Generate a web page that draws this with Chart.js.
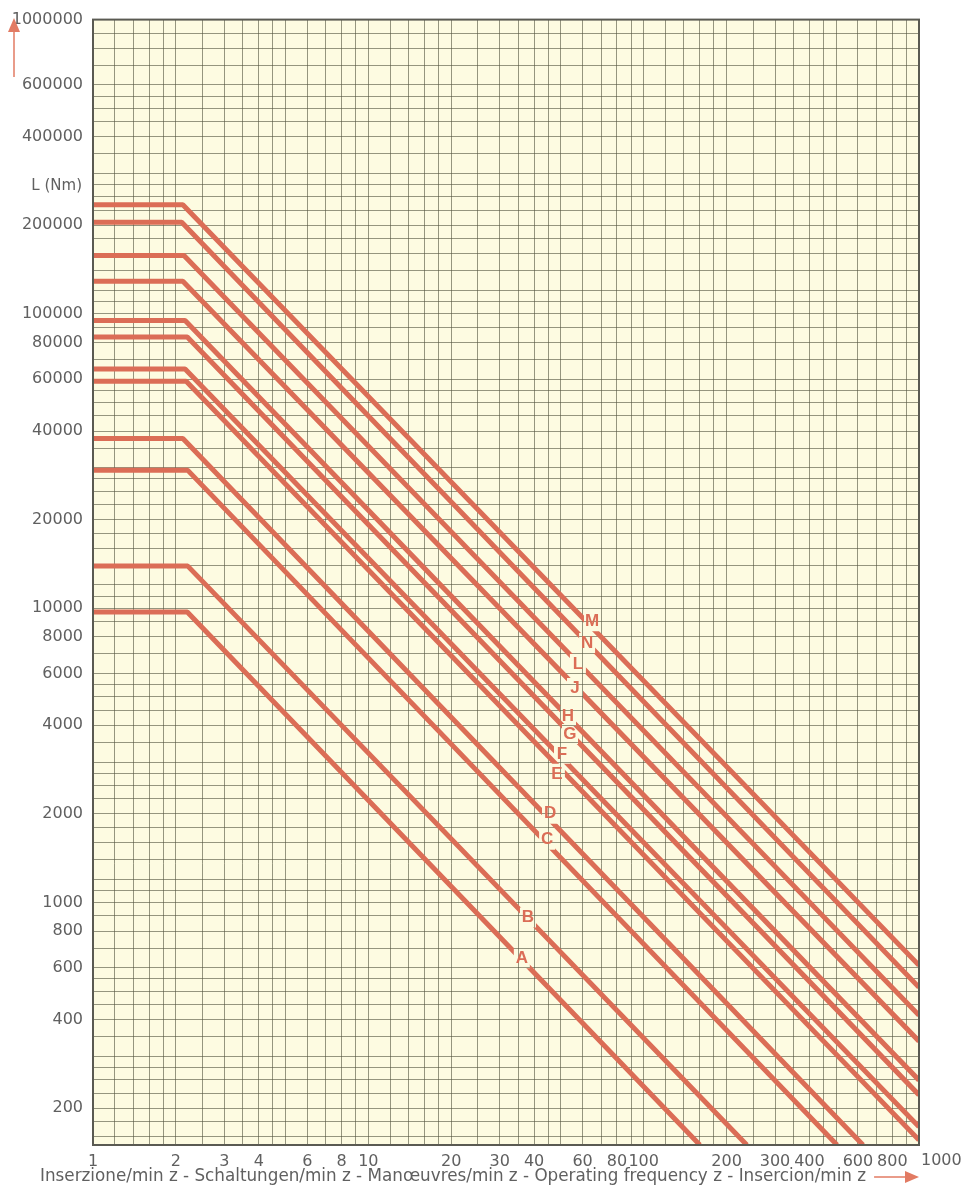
<!DOCTYPE html>
<html>
<head>
<meta charset="utf-8">
<script src="https://cdn.jsdelivr.net/npm/chart.js@4"></script>
<style>
  html, body { margin: 0; padding: 0; background: #fff; }
</style>
</head>
<body>
<canvas id="chart" width="973" height="1189"></canvas>
<script>
// curves, bottom (A) to top (M)
var curveNames = ['A', 'B', 'C', 'D', 'E', 'F', 'G', 'H', 'J', 'L', 'N', 'M'];
// L (Nm) on the flat part, from z = 1 to the knee
var flatL = [9700, 13900, 29400, 37700, 59000, 65000, 83500, 95000, 129000, 158000, 205000, 235000];
// z where the flat part turns down
var kneeZ = [2.2, 2.21, 2.21, 2.12, 2.18, 2.16, 2.2, 2.16, 2.12, 2.14, 2.1, 2.12];
// where the sloped part leaves the grid
var endZ = [160, 237, 504, 626, 1000, 1000, 1000, 1000, 1000, 1000, 1000, 1000];
var endL = [150, 150, 150, 150, 156, 173, 222, 249, 338, 414, 515, 612];
// letter tags sitting in the lines
var tagZ = [36.1, 38.0, 44.6, 45.7, 48.4, 50.5, 54.0, 53.1, 56.3, 57.7, 62.3, 64.9];
var tagL = [646, 890, 1635, 2003, 2737, 3200, 3740, 4304, 5355, 6460, 7610, 9030];

// axis labels as printed
var xLabels = [1, 2, 3, 4, 6, 8, 10, 20, 30, 40, 60, 80, 100, 200, 300, 400, 600, 800, 1000];
var yLabels = [200, 400, 600, 800, 1000, 2000, 4000, 6000, 8000, 10000, 20000, 40000,
               60000, 80000, 100000, 200000, 400000, 600000, 1000000];
// grid rulings inside one decade of the paper
var xRulings = [1, 1.2, 1.4, 1.6, 1.8, 2, 2.5, 3, 3.5, 4, 4.5, 5, 6, 7, 8, 9];
var yRulings = [1, 1.1, 1.2, 1.4, 1.6, 1.8, 2, 2.25, 2.5, 2.75, 3, 3.5, 4, 4.5, 5, 5.5, 6, 7, 8, 9];

var X_MIN = 1, X_MAX = 1000, Y_MIN = 150, Y_MAX = 1000000;

var LINE = '#db6d56';
var TEXT = '#606060';
var PAPER = '#fdfbe1';
var GRID = 'rgba(85, 85, 65, 0.62)';
var TICK_FONT = { family: 'DejaVu Sans', size: 16 };

function gridValues(rulings, lo, hi) {
  var out = [];
  for (var d = 1; d <= 1000000; d *= 10) {
    rulings.forEach(function(r) {
      var v = Math.round(r * d * 1000) / 1000;
      if (v >= lo && v <= hi) out.push(v);
    });
  }
  if (out[out.length - 1] !== hi) out.push(hi);
  if (out[0] !== lo) out.unshift(lo);
  return out;
}

var datasets = curveNames.map(function(name, i) {
  return {
    label: name,
    data: [
      {x: 1, y: flatL[i]},
      {x: kneeZ[i], y: flatL[i]},
      {x: endZ[i], y: endL[i]}
    ],
    showLine: true,
    borderColor: LINE,
    borderWidth: 5,
    borderJoinStyle: 'bevel',
    pointRadius: 0,
    tension: 0
  };
});

// gap in each line where its letter sits
var gapPlugin = {
  id: 'gaps',
  beforeDatasetDraw: function(chart, args) {
    var ctx = chart.ctx;
    var px = chart.scales.x.getPixelForValue(tagZ[args.index]);
    var py = chart.scales.y.getPixelForValue(tagL[args.index]);
    ctx.save();
    ctx.beginPath();
    ctx.rect(0, 0, chart.width, chart.height);
    ctx.rect(px - 8, py - 10, 16, 20);
    ctx.clip('evenodd');
  },
  afterDatasetDraw: function(chart) {
    chart.ctx.restore();
  }
};

var paperPlugin = {
  id: 'paper',
  beforeDraw: function(chart) {
    var ctx = chart.ctx, a = chart.chartArea;
    ctx.save();
    ctx.fillStyle = '#ffffff';
    ctx.fillRect(0, 0, chart.width, chart.height);
    ctx.fillStyle = PAPER;
    ctx.fillRect(a.left, a.top, a.right - a.left, a.bottom - a.top);
    ctx.restore();
  },
  afterDatasetsDraw: function(chart) {
    var ctx = chart.ctx;
    ctx.save();
    ctx.fillStyle = LINE;
    ctx.font = 'bold 17px "Liberation Sans", Arial, sans-serif';
    ctx.textAlign = 'center';
    ctx.textBaseline = 'middle';
    curveNames.forEach(function(name, i) {
      ctx.fillText(name, chart.scales.x.getPixelForValue(tagZ[i]), chart.scales.y.getPixelForValue(tagL[i]));
    });
    ctx.restore();
  },
  afterDraw: function(chart) {
    var ctx = chart.ctx, a = chart.chartArea;
    ctx.save();
    // frame
    ctx.strokeStyle = '#5a5a52';
    ctx.lineWidth = 2;
    ctx.strokeRect(a.left, a.top, a.right - a.left, a.bottom - a.top);

    // last x label sits past the frame, as printed
    ctx.fillStyle = TEXT;
    ctx.font = TICK_FONT.size + 'px "' + TICK_FONT.family + '", sans-serif';
    ctx.textAlign = 'left';
    ctx.textBaseline = 'middle';
    ctx.fillText(String(X_MAX), chart.scales.x.getPixelForValue(X_MAX) + 2, a.bottom + 16);

    // y title
    ctx.font = '15px "DejaVu Sans", sans-serif';
    ctx.textAlign = 'right';
    ctx.fillText('L (Nm)', a.left - 11, a.top + 167);

    // x title
    ctx.textAlign = 'left';
    ctx.font = '16.8px "DejaVu Sans", sans-serif';
    var xt = 'Inserzione/min z - Schaltungen/min z - Manœuvres/min z - Operating frequency z - Insercion/min z';
    ctx.fillText(xt, 40, a.bottom + 32);
    var tEnd = 40 + ctx.measureText(xt).width;

    // arrows
    ctx.strokeStyle = '#e27b63';
    ctx.fillStyle = '#e27b63';
    ctx.lineWidth = 1.5;
    ctx.beginPath();
    ctx.moveTo(14, 77);
    ctx.lineTo(14, 30);
    ctx.stroke();
    ctx.beginPath();
    ctx.moveTo(14, 18);
    ctx.lineTo(8, 32);
    ctx.lineTo(20, 32);
    ctx.closePath();
    ctx.fill();

    var ay = a.bottom + 32;
    ctx.beginPath();
    ctx.moveTo(tEnd + 8, ay);
    ctx.lineTo(a.right - 12, ay);
    ctx.stroke();
    ctx.beginPath();
    ctx.moveTo(a.right, ay);
    ctx.lineTo(a.right - 14, ay - 6);
    ctx.lineTo(a.right - 14, ay + 6);
    ctx.closePath();
    ctx.fill();
    ctx.restore();
  }
};

new Chart(document.getElementById('chart'), {
  type: 'scatter',
  data: { datasets: datasets },
  options: {
    responsive: false,
    animation: false,
    layout: { padding: { top: 17, right: 54, left: 0, bottom: 0 } },
    plugins: {
      legend: { display: false },
      tooltip: { enabled: false }
    },
    scales: {
      x: {
        type: 'logarithmic',
        min: X_MIN,
        max: X_MAX,
        afterFit: function(scale) { scale.height = 44; },
        afterBuildTicks: function(scale) {
          scale.ticks = gridValues(xRulings, X_MIN, X_MAX).map(function(v) { return {value: v}; });
        },
        ticks: {
          autoSkip: false,
          maxRotation: 0,
          padding: 7,
          color: TEXT,
          font: TICK_FONT,
          callback: function(v) {
            if (v === X_MAX) return '';  // drawn beside the frame instead
            return xLabels.indexOf(v) >= 0 ? String(v) : '';
          }
        },
        grid: { color: GRID, lineWidth: 1, drawTicks: false },
        border: { display: false }
      },
      y: {
        type: 'logarithmic',
        min: Y_MIN,
        max: Y_MAX,
        afterFit: function(scale) { scale.width = 93; },
        afterBuildTicks: function(scale) {
          scale.ticks = gridValues(yRulings, Y_MIN, Y_MAX).map(function(v) { return {value: v}; });
        },
        ticks: {
          autoSkip: false,
          padding: 10,
          color: TEXT,
          font: TICK_FONT,
          callback: function(v) { return yLabels.indexOf(v) >= 0 ? String(v) : ''; }
        },
        grid: { color: GRID, lineWidth: 1, drawTicks: false },
        border: { display: false }
      }
    }
  },
  plugins: [paperPlugin, gapPlugin]
});
</script>
</body>
</html>
